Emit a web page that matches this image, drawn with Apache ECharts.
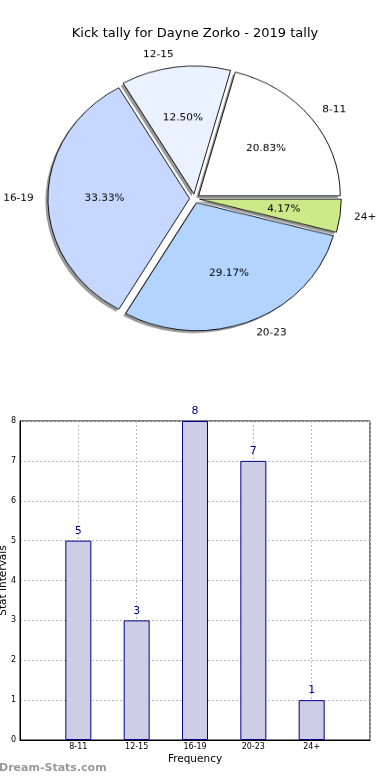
<!DOCTYPE html>
<html>
<head>
<meta charset="utf-8">
<script src="https://cdn.jsdelivr.net/npm/echarts@6/dist/echarts.min.js"></script>
<style>
html, body { margin: 0; padding: 0; background: #fff; }
#bar { position: absolute; left: 0; top: 0; width: 390px; height: 780px; }
#pie { position: absolute; left: 0; top: 0; width: 390px; height: 400px;
       transform: scaleY(0.9033); transform-origin: 194.6px 198.5px; }
</style>
</head>
<body>
<div id="bar"></div>
<div id="pie"></div>
<script>
// ---- data ----
const titleText = 'Kick tally for Dayne Zorko - 2019 tally';
const categories = ['8-11', '12-15', '16-19', '20-23', '24+'];
const counts = [5, 3, 8, 7, 1];
const xAxisName = 'Frequency';
const yAxisName = 'Stat Intervals';
const watermark = 'Dream-Stats.com';

// ---- styles ----
const sliceColors = ['#ffffff', '#eaf1ff', '#c6d8ff', '#b3d4ff', '#cdea8a'];
const FONT = 'DejaVu Sans';

const total = counts.reduce((a, b) => a + b, 0);
const pieR = 141.7;
const pieCenter = [194.6, 198.5];

const pieData = categories.map((c, i) => ({
  name: c, value: counts[i], selected: true,
  itemStyle: { color: sliceColors[i] }
}));
const pctData = categories.map((c, i) => ({ name: c, value: counts[i], selected: true }));
const shadowData = categories.map((c, i) => ({ name: c, value: counts[i], selected: true }));

const sliceStyle = { borderColor: '#000', borderWidth: 0.9 };

const pieBase = {
  type: 'pie', center: pieCenter, startAngle: 0, clockwise: false,
  selectedMode: 'multiple', selectedOffset: 5, avoidLabelOverlap: false,
  silent: true, emphasis: { disabled: true }
};

const pie = echarts.init(document.getElementById('pie'), null, { renderer: 'canvas' });
pie.setOption({
  animation: false,
  series: [
    Object.assign({}, pieBase, {
      // shadow copy (matplotlib-style), shifted down-left
      center: [pieCenter[0] - 2.5, pieCenter[1] + 2.6],
      radius: pieR,
      itemStyle: { color: 'rgba(0,0,0,0.4)', borderWidth: 0 },
      select: { itemStyle: { color: 'rgba(0,0,0,0.4)', borderWidth: 0 } },
      label: { show: false }, labelLine: { show: false },
      data: shadowData
    }),
    Object.assign({}, pieBase, {
      radius: pieR,
      itemStyle: sliceStyle,
      select: { itemStyle: sliceStyle, label: { color: '#000' } },
      label: {
        show: true, position: 'outside', formatter: '{b}',
        fontFamily: FONT, fontSize: 10.5, color: '#000', distanceToLabelLine: 0
      },
      labelLine: { show: false, length: pieR * 0.1, length2: 0 },
      data: pieData
    }),
    Object.assign({}, pieBase, {
      radius: pieR * 1.2 - 6,
      itemStyle: { color: 'rgba(0,0,0,0)', borderWidth: 0 },
      select: { itemStyle: { color: 'rgba(0,0,0,0)', borderWidth: 0 }, label: { color: '#000' } },
      label: {
        show: true, position: 'inner',
        formatter: p => (p.value / total * 100).toFixed(2) + '%',
        fontFamily: FONT, fontSize: 10.5, color: '#000'
      },
      labelLine: { show: false },
      data: pctData
    })
  ]
});

const bar = echarts.init(document.getElementById('bar'), null, { renderer: 'canvas' });
bar.setOption({
  animation: false,
  title: {
    text: titleText, left: 'center', top: 22,
    textStyle: { fontFamily: FONT, fontSize: 13, fontWeight: 'normal', color: '#000' }
  },
  grid: { left: 20, right: 20, top: 421, bottom: 40, containLabel: false, outerBoundsMode: 'none',
          show: true, borderColor: '#000', borderWidth: 1 },
  xAxis: {
    type: 'value', min: -1, max: 5, interval: 1,
    name: xAxisName, nameLocation: 'middle', nameGap: 14, nameMoveOverlap: false,
    nameTextStyle: { fontFamily: FONT, fontSize: 10.5, color: '#000' },
    axisLine: { show: true, onZero: false, lineStyle: { color: '#000' } },
    axisTick: { show: false },
    axisLabel: {
      fontFamily: FONT, fontSize: 8, color: '#000', margin: 3,
      formatter: v => (v >= 0 && v < categories.length ? categories[v] : '')
    },
    splitLine: { show: true, lineStyle: { color: '#bbb', type: [2, 2] } }
  },
  yAxis: {
    type: 'value', min: 0, max: 8, interval: 1,
    name: yAxisName, nameLocation: 'middle', nameGap: 11, nameMoveOverlap: false,
    nameTextStyle: { fontFamily: FONT, fontSize: 10.5, color: '#000' },
    axisLine: { show: true, onZero: false, lineStyle: { color: '#000' } },
    axisTick: { show: false },
    axisLabel: { fontFamily: FONT, fontSize: 8, color: '#000', margin: 4 },
    splitLine: { show: true, lineStyle: { color: '#bbb', type: [2, 2] } }
  },
  graphic: [{
    type: 'text', left: -1, top: 763,
    style: { text: watermark, fontFamily: FONT, fontSize: 11, fontWeight: 'bold', fill: '#9a9a9a' }
  }],
  series: [{
    type: 'bar',
    barWidth: 26,
    data: counts.map((v, i) => [i, v]),
    itemStyle: { color: '#cdcde6', borderColor: '#00008b', borderWidth: 1 },
    label: { show: true, position: 'top', distance: 4, fontFamily: FONT, fontSize: 11, color: '#00008b',
             formatter: p => String(p.value[1]) },
    emphasis: { disabled: true },
    z: 1
  }]
});
</script>
</body>
</html>
